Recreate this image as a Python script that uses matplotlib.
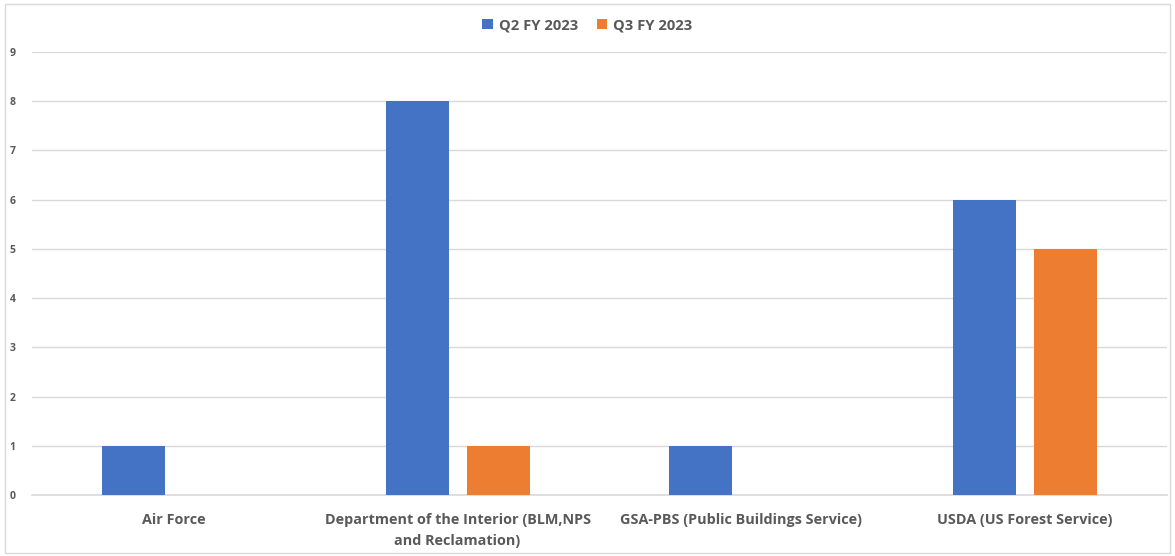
import numpy as np
import matplotlib
matplotlib.use("Agg")
import matplotlib.pyplot as plt
from matplotlib.patches import Rectangle

# data
categories = ["Air Force",
              "Department of the Interior (BLM,NPS\nand Reclamation)",
              "GSA-PBS (Public Buildings Service)",
              "USDA (US Forest Service)"]
q2_fy2023 = [1, 8, 1, 6]
q3_fy2023 = [0, 1, 0, 5]
series_names = ["Q2 FY 2023", "Q3 FY 2023"]

blue = "#4472C4"
orange = "#ED7D31"
text_col = "#595959"

plt.rcParams["font.family"] = ["Open Sans", "DejaVu Sans"]

fig = plt.figure(figsize=(11.75, 5.56), dpi=100)
ax = fig.add_axes([0.0272, 0.1097, 0.966, 0.7968])

x = np.arange(len(categories))
w = 0.222
off = 0.1427
ax.bar(x - off, q2_fy2023, width=w, color=blue, label=series_names[0], zorder=3)
ax.bar(x + off, q3_fy2023, width=w, color=orange, label=series_names[1], zorder=3)

ax.set_xlim(-0.5, len(categories) - 0.5)
ax.set_ylim(0, 9)
ax.set_yticks(range(0, 10))
ax.grid(axis="y", color="#D9D9D9", linewidth=1, zorder=0)
for s in ["top", "right", "left"]:
    ax.spines[s].set_visible(False)
ax.spines["bottom"].set_color("#D9D9D9")
ax.spines["bottom"].set_linewidth(1.2)

ax.set_xticks(x)
ax.set_xticklabels(categories, fontsize=10.4, color=text_col, fontweight="bold",
                   linespacing=1.65)
ax.tick_params(axis="x", length=0, pad=13)
ax.tick_params(axis="y", length=0, pad=12, labelsize=7.5, labelcolor=text_col)
for lbl in ax.get_yticklabels():
    lbl.set_fontweight("bold")

leg = fig.legend(loc="center", bbox_to_anchor=(0.5, 0.955), ncol=2, frameon=False,
                 handlelength=0.7, handleheight=0.7, columnspacing=1.3, handletextpad=0.4,
                 prop={"size": 10.6, "weight": "bold"})
for t in leg.get_texts():
    t.set_color(text_col)

# chart border
fig.patches.append(Rectangle((0.004, 0.005), 0.992, 0.988, transform=fig.transFigure,
                             fill=False, edgecolor="#D9D9D9", linewidth=1))

fig.savefig("out.png", dpi=100)
